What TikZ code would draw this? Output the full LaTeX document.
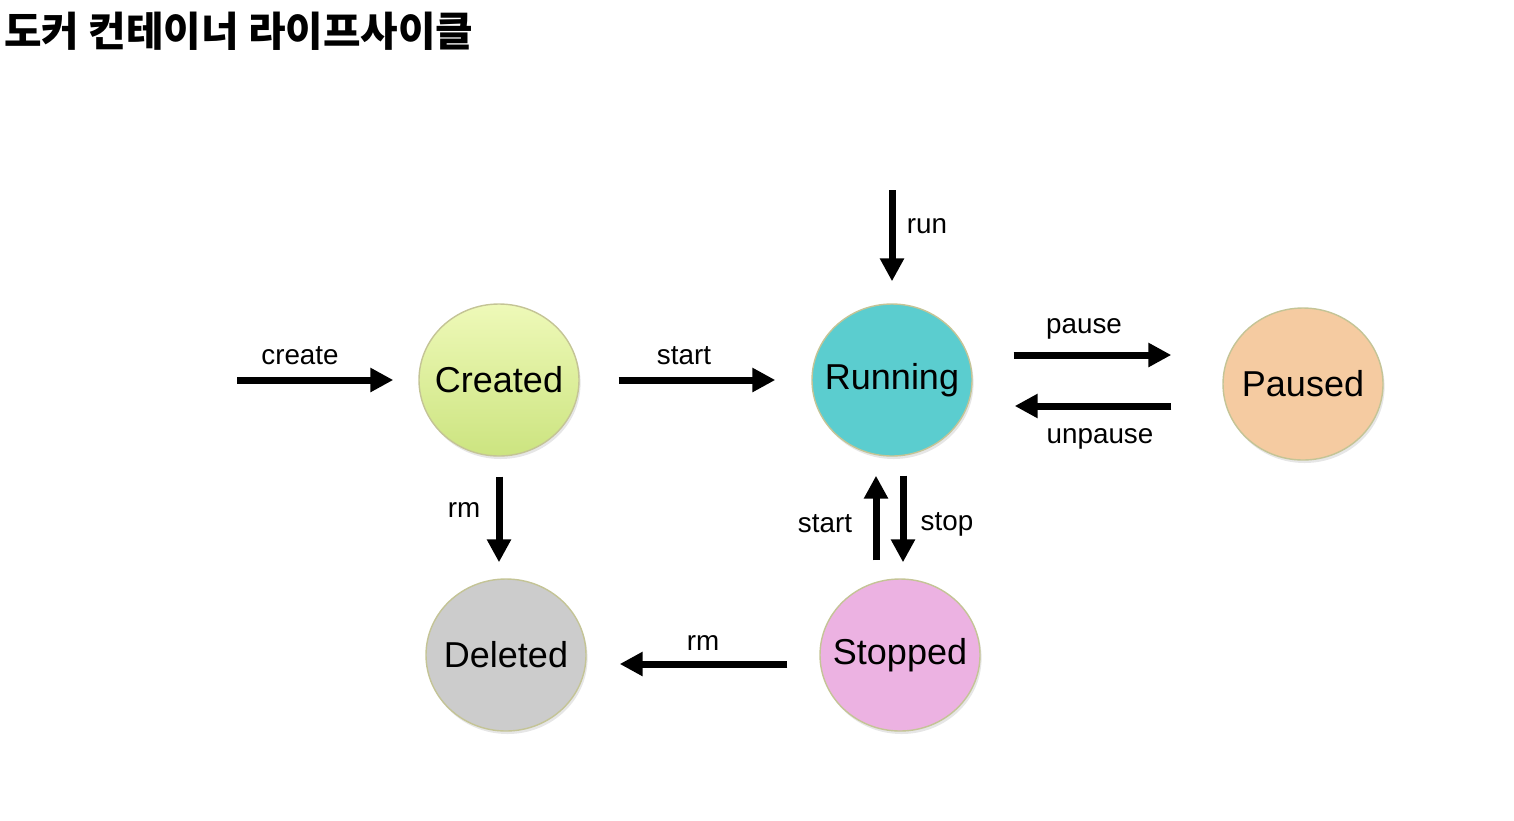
\documentclass[tikz,border=0pt]{standalone}
\usepackage{fontspec}
\setmainfont{Liberation Sans}
\newfontfamily\krfont{Noto Sans CJK KR}
\usepackage{tikz}
\usetikzlibrary{arrows.meta, shapes.geometric, shadows, calc}
\definecolor{createdtop}{RGB}{238,249,184}
\definecolor{createdbot}{RGB}{204,228,128}
\definecolor{runningcyan}{RGB}{91,205,207}
\definecolor{pausedpeach}{RGB}{245,203,161}
\definecolor{deletedgray}{RGB}{204,204,204}
\definecolor{stoppedpink}{RGB}{236,178,226}
\definecolor{rimtan}{RGB}{196,196,150}

\begin{document}
\begin{tikzpicture}[x=0.5pt, y=-0.5pt]
		\tikzstyle{state}=[ellipse, draw=rimtan, line width=0.7pt, minimum width=80pt, minimum height=76pt, inner sep=0pt, font=\fontsize{18}{20}\selectfont, drop shadow={opacity=0.2, shadow xshift=0.8pt, shadow yshift=-1.5pt}]
		\tikzstyle{act}=[line width=3.5pt, -{Triangle[length=11.5pt, width=11.5pt]}]
		\tikzstyle{lbl}=[inner sep=0pt, anchor=base, font=\fontsize{13.9}{16}\selectfont]
		\useasboundingbox (0,0) rectangle (1514,820);
		%%
		\node (title) at (4,31) [anchor=west, inner sep=0pt, font=\krfont\bfseries\fontsize{20.4}{23}\selectfont] {도커 컨테이너 라이프사이클};
		%%
		\node (created) at (499,380) [state, top color=createdtop, bottom color=createdbot] {\makebox[0pt]{Created}};
		\node (running) at (892,380) [state, fill=runningcyan] {\makebox[0pt]{Running}};
		\node (paused) at (1303,384) [state, fill=pausedpeach] {\makebox[0pt]{Paused}};
		\node (deleted) at (506,655) [state, fill=deletedgray] {\makebox[0pt]{Deleted}};
		\node (stopped) at (900,655) [state, fill=stoppedpink] {\makebox[0pt]{Stopped}};
		\coordinate (new) at (237,380);
		\coordinate (image) at (892,190);
		
		\draw [act, shorten >=12.5pt] (new) -- (created);
		\draw [act, shorten <=19.5pt, shorten >=18pt] (created) -- (running);
		\draw [act, shorten >=11pt] (image) -- (running);
		\draw [act] ($(running.east)+(41,-25)$) -- ($(paused.west)+(-51,-29)$);
		\draw [act] ($(paused.west)+(-51,22)$) -- ($(running.east)+(42,26)$);
		\draw [act, shorten <=10pt, shorten >=8pt] (created.south) -- (created.south |- deleted.north);
		\draw [act] ($(stopped.north)+(-24,-18)$) -- ($(running.south)+(-16,19)$);
		\draw [act] ($(running.south)+(11,19)$) -- ($(stopped.north)+(3,-16)$);
		\draw [act] ($(stopped.west)+(-32,9)$) -- ($(deleted.east)+(33,9)$);
		
		\node (lcreate) at (300,364) [lbl] {create};
		\node (lstart) at (684,364) [lbl] {start};
		\node (lrun) at (927,233) [lbl] {run};
		\node (lpause) at (1084,333) [lbl] {pause};
		\node (lunpause) at (1100,443) [lbl] {unpause};
		\node (lrm) at (464,517) [lbl] {rm};
		\node (lrestart) at (825,532) [lbl] {start};
		\node (lstop) at (947,530) [lbl] {stop};
		\node (lremove) at (703,650) [lbl] {rm};
		\end{tikzpicture}
\end{document}
